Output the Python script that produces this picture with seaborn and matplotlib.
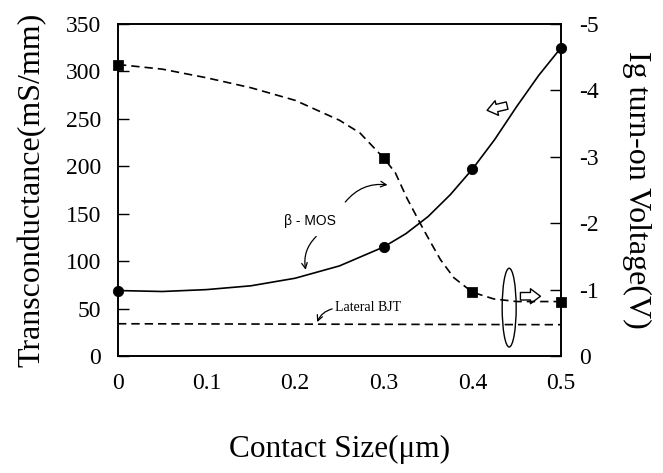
import matplotlib
matplotlib.use("Agg")
import matplotlib.pyplot as plt
from matplotlib.patches import Ellipse
import seaborn as sns

# contact size (um) where devices were measured
contact_size = [0, 0.3, 0.4, 0.5]
gm_measured = [69, 115, 197, 325]              # beta-MOS transconductance (mS/mm)
vturn_measured = [-4.39, -2.98, -0.96, -0.82]  # Ig turn-on voltage (V)

# fitted curves
gm_curve_x = [0, 0.05, 0.1, 0.15, 0.2, 0.25, 0.3, 0.325, 0.35, 0.375, 0.4,
              0.425, 0.45, 0.475, 0.5]
gm_curve_y = [69, 68, 70, 74, 82, 95, 115, 129, 147, 170, 197, 228, 263, 296, 325]
vt_curve_x = [0, 0.05, 0.1, 0.15, 0.2, 0.25, 0.273, 0.3, 0.313, 0.326, 0.341,
              0.35, 0.364, 0.379, 0.4, 0.424, 0.45, 0.475, 0.5]
vt_curve_y = [-4.39, -4.32, -4.19, -4.04, -3.85, -3.55, -3.36, -2.98, -2.76,
              -2.38, -2.00, -1.78, -1.45, -1.18, -0.96, -0.86, -0.82, -0.82, -0.82]
bjt_x = [0, 0.5]
bjt_y = [34, 33]                                # lateral BJT transconductance

x_ticks = [0, 0.1, 0.2, 0.3, 0.4, 0.5]
x_labels = ["0", "0.1", "0.2", "0.3", "0.4", "0.5"]
left_ticks = [0, 50, 100, 150, 200, 250, 300, 350]
right_ticks = [0, -1, -2, -3, -4, -5]

sns.set_style("white")
plt.rcParams["font.family"] = ["Liberation Serif", "DejaVu Serif"]
plt.rcParams["axes.unicode_minus"] = False
plt.rcParams["text.color"] = "black"
plt.rcParams["axes.labelcolor"] = "black"

fig = plt.figure(figsize=(6.63, 4.73), dpi=100)
ax = fig.add_axes([118 / 663, 1 - 356 / 473, 443 / 663, 332 / 473])
ax2 = ax.twinx()

dash = (0, (5, 3))
sns.lineplot(x=gm_curve_x, y=gm_curve_y, ax=ax, color="black", lw=1.2, errorbar=None)
sns.lineplot(x=bjt_x, y=bjt_y, ax=ax, color="black", lw=1.2, linestyle=dash, errorbar=None)
sns.scatterplot(x=contact_size, y=gm_measured, ax=ax, marker="o", s=55,
                color="black", edgecolor="black", zorder=5, clip_on=False)

sns.lineplot(x=vt_curve_x, y=vt_curve_y, ax=ax2, color="black", lw=1.2,
             linestyle=dash, errorbar=None)
sns.scatterplot(x=contact_size, y=vturn_measured, ax=ax2, marker="s", s=45,
                color="black", edgecolor="black", zorder=5, clip_on=False)

ax.set_xlim(0, 0.5)
ax.set_ylim(0, 350)
ax2.set_ylim(0, -5)
ax.set_xticks(x_ticks, labels=x_labels)
ax.set_yticks(left_ticks)
ax2.set_yticks(right_ticks)

for a in (ax, ax2):
    for s in a.spines.values():
        s.set_linewidth(1.2)
        s.set_color("black")
ax.tick_params(axis="both", direction="in", length=8, width=1, labelsize=17,
               colors="black", pad=12)
ax2.tick_params(axis="y", direction="in", length=8, width=1, labelsize=17,
                colors="black", pad=13)

ax.set_xlabel("Contact Size(μm)", fontsize=22.5, labelpad=30)
ax.set_ylabel("Transconductance(mS/mm)", fontsize=23, labelpad=14)
ax2.set_ylabel("Ig turn-on Voltage(V)", fontsize=23, rotation=270, labelpad=38)

# annotations
thin = dict(arrowstyle="->", lw=0.9, color="black")
ax.text(0.217, 142, "β - MOS", fontsize=10, family="Liberation Sans",
        ha="center", va="center")
ax.annotate("", xy=(0.2125, 88), xytext=(0.226, 128),
            arrowprops=dict(thin, connectionstyle="arc3,rad=0.3"))
ax.annotate("", xy=(0.3073, 180), xytext=(0.2546, 160),
            arrowprops=dict(thin, connectionstyle="arc3,rad=-0.3"))
ax.text(0.245, 51, "Lateral BJT", fontsize=10, ha="left", va="center")
ax.annotate("", xy=(0.2237, 33), xytext=(0.2448, 50.3),
            arrowprops=dict(thin, connectionstyle="arc3,rad=0.3"))
ax.add_patch(Ellipse((0.4415, 51), 0.0158, 83, fill=False, lw=1, color="black"))
hollow = dict(arrowstyle="simple,head_length=0.6,head_width=0.9,tail_width=0.45",
              fc="white", ec="black", lw=1, mutation_scale=12, shrinkA=0, shrinkB=0)
ax.annotate("", xy=(0.4166, 259), xytext=(0.4392, 264), arrowprops=hollow)
ax.annotate("", xy=(0.4768, 63), xytext=(0.4542, 63), arrowprops=hollow)

fig.savefig("out.png", dpi=100)
